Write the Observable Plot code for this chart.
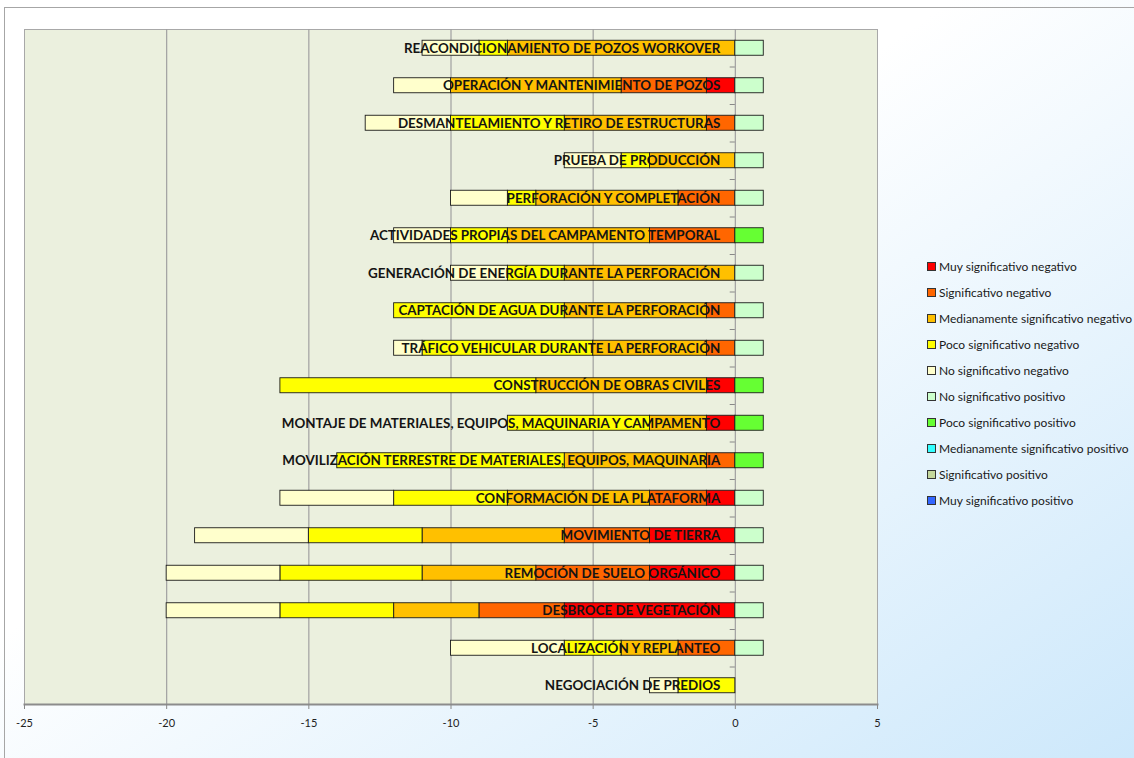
<!DOCTYPE html>
<html><head><meta charset="utf-8">
<script src="https://cdn.jsdelivr.net/npm/d3@7"></script>
<script src="https://cdn.jsdelivr.net/npm/@observablehq/plot@0.6"></script>
<style>
body{margin:0;background:#fff;}
#chart{position:relative;width:1134px;height:758px;overflow:hidden;
  background:linear-gradient(to bottom right,#ffffff 0%,#ffffff 42%,#cde8fb 100%);}
#outer{position:absolute;left:4px;top:7px;width:1300px;height:900px;border-left:1px solid #a6a6a6;border-top:1px solid #a6a6a6;}
#plot{position:absolute;left:0;top:0;}
#legend{position:absolute;left:927px;top:253px;font-family:Lato,sans-serif;font-size:12px;color:#1a1a1a;}
#legend .item{display:flex;align-items:center;height:26px;}
#legend .sw{width:7px;height:7px;border:1px solid #333;margin-right:3px;}
</style></head>
<body>
<div id="chart"><div id="outer"></div><div id="plot"></div><div id="legend"></div></div>
<script>
const categories = [
  "REACONDICIONAMIENTO DE POZOS WORKOVER",
  "OPERACIÓN Y MANTENIMIENTO DE POZOS",
  "DESMANTELAMIENTO Y RETIRO DE ESTRUCTURAS",
  "PRUEBA DE PRODUCCIÓN",
  "PERFORACIÓN Y COMPLETACIÓN",
  "ACTIVIDADES PROPIAS DEL CAMPAMENTO TEMPORAL",
  "GENERACIÓN DE ENERGÍA DURANTE LA PERFORACIÓN",
  "CAPTACIÓN DE AGUA DURANTE LA PERFORACIÓN",
  "TRÁFICO VEHICULAR DURANTE LA PERFORACIÓN",
  "CONSTRUCCIÓN DE OBRAS CIVILES",
  "MONTAJE DE MATERIALES, EQUIPOS, MAQUINARIA Y CAMPAMENTO",
  "MOVILIZACIÓN TERRESTRE DE MATERIALES, EQUIPOS, MAQUINARIA",
  "CONFORMACIÓN DE LA PLATAFORMA",
  "MOVIMIENTO DE TIERRA",
  "REMOCIÓN DE SUELO ORGÁNICO",
  "DESBROCE DE VEGETACIÓN",
  "LOCALIZACIÓN Y REPLANTEO",
  "NEGOCIACIÓN DE PREDIOS"
];
const seriesNames = [
  "Muy significativo negativo",
  "Significativo negativo",
  "Medianamente significativo negativo",
  "Poco significativo negativo",
  "No significativo negativo",
  "No significativo positivo",
  "Poco significativo positivo",
  "Medianamente significativo positivo",
  "Significativo positivo",
  "Muy significativo positivo"
];
const seriesColors = ["#ff0000","#ff6600","#ffc000","#ffff00","#ffffcc","#ccffcc","#66ff33","#33ffff","#c4d79b","#3366ff"];
// counts per category (same order as categories)
const muySigNeg  = [0,1,0,0,0,0,0,0,0,1,1,0,1,3,3,6,0,0];
const sigNeg     = [0,3,1,0,2,3,0,1,1,0,0,1,2,3,4,3,2,0];
const medNeg     = [8,6,5,3,5,5,6,5,4,6,2,5,5,5,4,3,2,0];
const pocoNeg    = [1,0,4,1,1,2,2,6,6,9,5,8,4,4,5,4,2,2];
const noNeg      = [2,2,3,2,2,2,2,0,1,0,0,0,4,4,4,4,4,1];
const noPos      = [1,1,1,1,1,0,1,1,1,0,0,0,1,1,1,1,1,0];
const pocoPos    = [0,0,0,0,0,1,0,0,0,1,1,1,0,0,0,0,0,0];
const medPos     = [0,0,0,0,0,0,0,0,0,0,0,0,0,0,0,0,0,0];
const sigPos     = [0,0,0,0,0,0,0,0,0,0,0,0,0,0,0,0,0,0];
const muySigPos  = [0,0,0,0,0,0,0,0,0,0,0,0,0,0,0,0,0,0];
const xTicks = [-25,-20,-15,-10,-5,0,5];
const xGrid = [-20,-15,-10,-5,0];

const seriesValues = [muySigNeg,sigNeg,medNeg,pocoNeg,noNeg,noPos,pocoPos,medPos,sigPos,muySigPos];
const data = [];
categories.forEach((c,i)=>{
  seriesValues.forEach((arr,j)=>{
    const v = arr[i];
    if (v) data.push({cat:c, series:seriesNames[j], value: j<5 ? -v : v});
  });
});

const chart = Plot.plot({
  width:1134, height:758,
  marginLeft:24, marginRight:257, marginTop:29, marginBottom:54,
  style:{background:"transparent", fontFamily:"Lato, sans-serif", overflow:"visible"},
  x:{domain:[-25,5], axis:null},
  y:{domain:categories, paddingInner:0.6, paddingOuter:0.3, round:false, axis:null},
  color:{domain:seriesNames, range:seriesColors},
  marks:[
    Plot.frame({fill:"#ebf0de", stroke:"#a8a8a8"}),
    Plot.gridX(xGrid, {stroke:"#a0a0a0", strokeOpacity:1, strokeWidth:1.2}),
    Plot.ruleY(categories, {y:d=>d, x1:()=>-0.18, x2:()=>0, dy:18.75, stroke:"#888"}),
    Plot.barX(data, Plot.stackX({x:"value", y:"cat", fill:"series", stroke:"#1a1a1a", strokeWidth:0.9})),
    Plot.text(categories, {x:()=>0, y:d=>d, text:d=>d, textAnchor:"end", dx:-15,
      fontWeight:"bold", fontSize:13.4, fill:"#141414"}),
    Plot.frame({anchor:"bottom", stroke:"#8c8c8c", strokeWidth:2}),
    Plot.axisX(xTicks, {tickSize:5, tickPadding:10, tickFormat:d=>String(d), fontSize:11, fill:"#222", stroke:"#888", label:null})
  ]
});
document.getElementById("plot").appendChild(chart);

const legend = document.getElementById("legend");
seriesNames.forEach((s,i)=>{
  const it = document.createElement("div"); it.className="item";
  const sw = document.createElement("div"); sw.className="sw"; sw.style.background=seriesColors[i];
  const tx = document.createElement("span"); tx.textContent = s;
  it.appendChild(sw); it.appendChild(tx); legend.appendChild(it);
});
</script>
</body></html>
